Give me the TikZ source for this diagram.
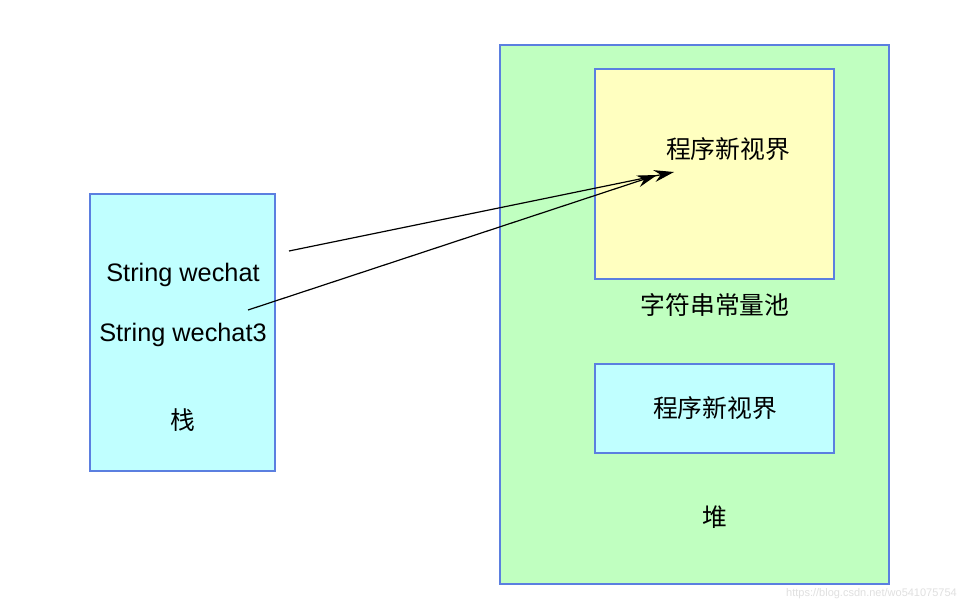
\documentclass[tikz,border=0pt]{standalone}
\usepackage{fontspec}
\setmainfont{Liberation Sans}
\newfontfamily\cjk{Noto Sans CJK SC}
\usetikzlibrary{arrows.meta}
\definecolor{bord}{HTML}{5B7FE0}
\definecolor{cyanfill}{HTML}{C0FFFF}
\definecolor{greenfill}{HTML}{C0FFC0}
\definecolor{yellowfill}{HTML}{FFFFC0}
\tikzset{
  box/.style={draw=bord, line width=1.4pt, inner sep=0pt},
  lbl/.style={font=\fontsize{25.3}{30}\selectfont, inner sep=0pt, anchor=center},
  clbl/.style={font=\fontsize{24.8}{30}\selectfont\cjk, inner sep=0pt, anchor=center},
  ptr/.style={line width=1.2pt, -{Stealth[length=20pt,width=12pt]}}
}
\begin{document}
\begin{tikzpicture}[x=1pt,y=-1pt]
\useasboundingbox (0,0) rectangle (968,606);
\fill[white] (0,0) rectangle (968,606);
% stack
\draw[box, fill=cyanfill] (90,194) rectangle (275,471);
\node[lbl] (s1) at (183,275) {String wechat};
\node[lbl] (s3) at (183,335) {String wechat3};
\node[clbl] (stk) at (183,420) {栈};
% heap
\draw[box, fill=greenfill] (500,45) rectangle (889,584);
\draw[box, fill=yellowfill] (595,69) rectangle (834,279);
\node[clbl] (p1) at (728,149) {程序新视界};
\node[clbl] (pool) at (715,305) {字符串常量池};
\draw[box, fill=cyanfill] (595,364) rectangle (834,453);
\node[clbl] (p2) at (715,408) {程序新视界};
\node[clbl] (heap) at (715,517) {堆};
% arrows
\coordinate (a1) at (289,251);
\coordinate (a2) at (248,310);
\coordinate (t1) at (674,172);
\coordinate (t2) at (657,175);
\draw[ptr] (a1) -- (t1);
\draw[ptr] (a2) -- (t2);
% watermark
\node[font=\fontsize{11}{13}\selectfont, text=black!12, anchor=east, inner sep=0pt] (wm) at (957,594) {https://blog.csdn.net/wo541075754};
\end{tikzpicture}
\end{document}
